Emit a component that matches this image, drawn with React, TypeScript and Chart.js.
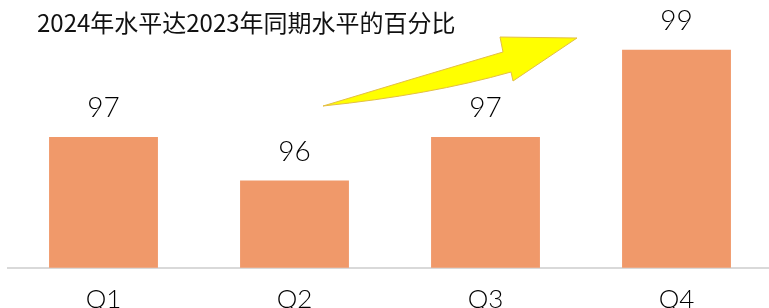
import React, { useEffect, useRef } from "react";
import { Chart, registerables } from "chart.js";

Chart.register(...registerables);

const categories = ["Q1", "Q2", "Q3", "Q4"];
const values = [97, 96, 97, 99];
const titleText = "2024年水平达2023年同期水平的百分比";
const yMin = 94;
const yMax = 100;

const overlayPlugin = {
  id: "overlay",
  afterDatasetsDraw(chart: any) {
    const ctx = chart.ctx;
    const meta = chart.getDatasetMeta(0);
    ctx.save();
    // value labels
    ctx.fillStyle = "#000";
    ctx.font = "300 28px Lato, 'Open Sans', sans-serif";
    ctx.textAlign = "center";
    ctx.textBaseline = "alphabetic";
    meta.data.forEach((bar: any, i: number) => {
      ctx.fillText(String(values[i]), bar.x, bar.y - 20);
    });
    // title
    ctx.fillStyle = "#111";
    ctx.font = "24px 'Noto Sans CJK SC', sans-serif";
    ctx.textAlign = "left";
    ctx.fillText(titleText, 37, 31.5);
    // arrow annotation
    ctx.beginPath();
    ctx.moveTo(323, 106);
    ctx.quadraticCurveTo(415, 78, 503, 52);
    ctx.lineTo(500, 37);
    ctx.lineTo(577, 38);
    ctx.lineTo(513, 81);
    ctx.lineTo(511, 72);
    ctx.quadraticCurveTo(430, 95, 323, 106);
    ctx.closePath();
    ctx.fillStyle = "#FFFF00";
    ctx.fill();
    ctx.strokeStyle = "#E3BE45";
    ctx.lineWidth = 1;
    ctx.stroke();
    ctx.restore();
  },
};

const W = 775;
const H = 337;

export default function App() {
  const ref = useRef<HTMLCanvasElement>(null);
  useEffect(() => {
    if (!ref.current) return;
    const chart = new Chart(ref.current, {
      type: "bar",
      data: {
        labels: categories,
        datasets: [
          {
            data: values,
            backgroundColor: "#F0996A",
            borderWidth: 0,
            barPercentage: 0.57,
            categoryPercentage: 1,
          },
        ],
      },
      options: {
        responsive: false,
        animation: false,
        layout: { padding: { left: 8, right: 3, top: 6, bottom: 6 } },
        plugins: {
          legend: { display: false },
          tooltip: { enabled: false },
          title: { display: false },
        },
        scales: {
          x: {
            grid: { display: false, drawTicks: false },
            border: { display: true, color: "#d9d9d9", width: 2 },
            ticks: {
              color: "#000",
              padding: 16,
              font: { family: "Lato, 'Open Sans', sans-serif", size: 26, weight: "300" as any },
            },
          },
          y: { display: false, min: yMin, max: yMax },
        },
      },
      plugins: [overlayPlugin],
    });
    return () => chart.destroy();
  }, []);
  return (
    <div style={{ position: "fixed", left: 0, top: 0, width: W, height: H }}>
      <canvas ref={ref} width={W} height={H} style={{ width: W, height: H }} />
    </div>
  );
}
